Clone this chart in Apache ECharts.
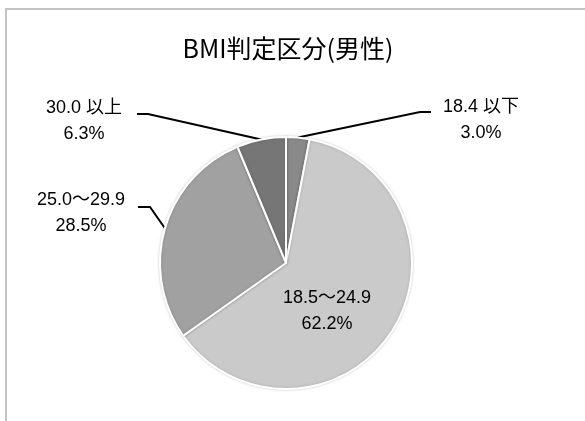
<!DOCTYPE html>
<html><head><meta charset="utf-8">
<script src="https://cdn.jsdelivr.net/npm/echarts@6/dist/echarts.min.js"></script>
<style>
html,body{margin:0;padding:0;background:#fff;}
#frame{position:absolute;left:5px;top:8px;width:590px;height:420px;border-top:2px solid #c4c4c4;border-left:2px solid #c4c4c4;}
#c{position:absolute;left:0;top:0;width:585px;height:421px;}
</style></head>
<body>
<div id="frame"></div>
<div id="c"></div>
<script>
const titleText = 'BMI判定区分(男性)';
const categories = ['18.4 以下', '18.5〜24.9', '25.0〜29.9', '30.0 以上'];
const values = [3.0, 62.2, 28.5, 6.3];
const colors = ['#898989', '#c9cac9', '#a1a1a1', '#767676'];

// label placement (text block centre, elbow of leader line, end of leader line)
const labelPlace = [
  { x: 481, y: 120, elbow: [420, 112], end: [431, 112] },
  { x: 327, y: 311 },
  { x: 81, y: 213, elbow: [150, 207], end: [138, 207] },
  { x: 84, y: 121, elbow: [148, 114], end: [137, 114] }
];

const FONT = '"Liberation Sans", "Noto Sans CJK JP", sans-serif';
const chart = echarts.init(document.getElementById('c'));
const data = categories.map((n, i) => {
  const d = { name: n, value: values[i], itemStyle: { color: colors[i] } };
  if (i === 1) {
    d.label = { position: 'inside' };
    d.labelLine = { show: false };
  }
  return d;
});
chart.setOption({
  animation: false,
  title: {
    text: titleText, left: 283, top: 31, textAlign: 'center',
    textStyle: { fontFamily: '"Noto Sans CJK JP", sans-serif', fontSize: 25, fontWeight: 'normal', color: '#000' }
  },
  series: [{
    type: 'pie',
    center: [286, 263],
    radius: ['0%', 126],
    startAngle: 90,
    clockwise: true,
    data: data,
    itemStyle: { borderColor: '#fff', borderWidth: 2, shadowBlur: 3, shadowColor: 'rgba(0,0,0,0.18)' },
    label: {
      show: true,
      formatter: p => p.name + '\n' + p.value.toFixed(1) + '%',
      fontFamily: FONT, fontSize: 18, color: '#000', lineHeight: 26, align: 'center'
    },
    labelLine: { show: true, length: 18, length2: 18, lineStyle: { color: '#000', width: 2 } },
    labelLayout: function (params) {
      const pl = labelPlace[params.dataIndex];
      const out = { x: pl.x, y: pl.y, align: 'center', verticalAlign: 'middle' };
      if (pl.elbow && params.labelLinePoints) {
        out.labelLinePoints = [params.labelLinePoints[0], pl.elbow, pl.end];
      }
      return out;
    }
  }]
});
</script>
</body></html>
